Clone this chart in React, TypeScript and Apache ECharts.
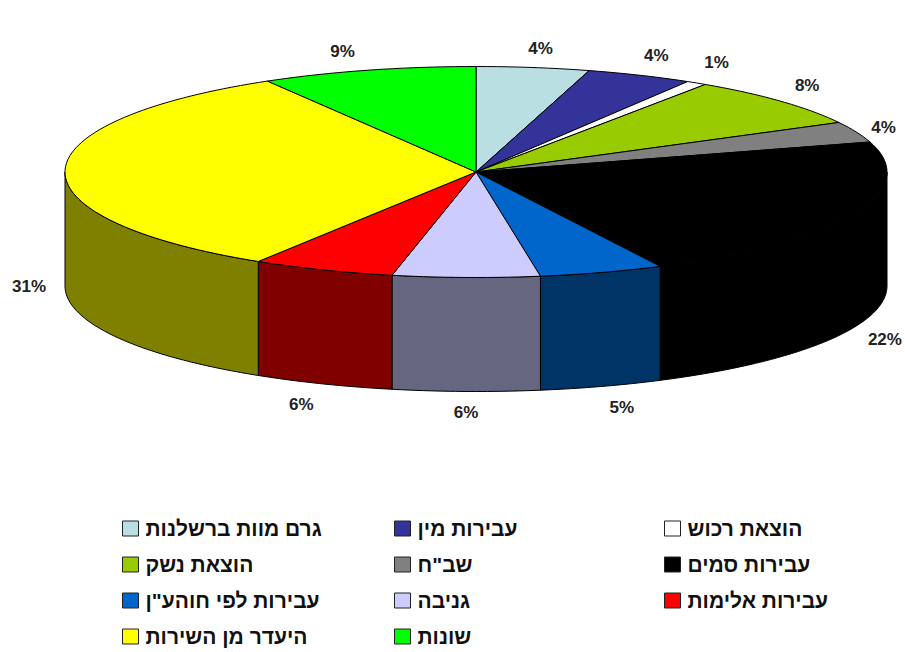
import React, { useEffect, useRef } from "react";
import * as echarts from "echarts";

const sliceNames = ["גרם מוות ברשלנות", "עבירות מין", "הוצאת רכוש", "הוצאת נשק", 'שב"ח', "עבירות סמים", 'עבירות לפי חוהע"ן', "גניבה", "עבירות אלימות", "היעדר מן השירות", "שונות"];
const visibleShares = [4.44, 4.17, 0.81, 7.8, 3.19, 22.19, 4.89, 5.78, 5.61, 32.64, 8.47];
const percentLabels = [4, 4, 1, 8, 4, 22, 5, 6, 6, 31, 9];
const topColors = ["#B9DFE3", "#333399", "#FFFFFF", "#99CC00", "#808080", "#000000", "#0066CC", "#CCCCFF", "#FF0000", "#FFFF00", "#00FF00"];
const wallColors = ["#5C7072", "#19194D", "#808080", "#4D6600", "#404040", "#000000", "#003366", "#666680", "#800000", "#808000", "#008000"];
const legendColumns = [[0, 3, 6, 9], [1, 4, 7, 10], [2, 5, 8]];
const legendLefts = [122, 394, 664];
const labelNudges = [[2, 0], [1, -2], [-1, -4], [-3, -3], [-9, 3], [-4, 4], [8, 2], [1, 2], [-7, 3], [3, 2], [-15, 0]];

const CX = 476, CY = 172, RX = 411, RY = 105.5, DEPTH = 114;
const LABEL_RX = 450, LABEL_RY = 125;
const pt = (deg: number, dy = 0) => {
  const r = (deg * Math.PI) / 180;
  return [CX + RX * Math.sin(r), CY - RY * Math.cos(r) + dy];
};
const arc = (a: number, b: number, dy = 0) => {
  const out: number[][] = [];
  const n = Math.max(2, Math.ceil((b - a) / 1.5));
  for (let i = 0; i <= n; i++) out.push(pt(a + ((b - a) * i) / n, dy));
  return out;
};
const total = visibleShares.reduce((s, v) => s + v, 0);
const startDeg = (idx: number) => (visibleShares.slice(0, idx).reduce((s, v) => s + v, 0) / total) * 360;

export default function App() {
  const ref = useRef<HTMLDivElement>(null);
  useEffect(() => {
    const chart = echarts.init(ref.current!, undefined, { renderer: "svg" });
    const stroke = "#000000";
    chart.setOption({
      animation: false,
      backgroundColor: "#ffffff",
      legend: legendColumns.map((col, i) => ({
        orient: "vertical",
        left: legendLefts[i],
        top: 518,
        padding: 0,
        height: 134,
        icon: "rect",
        itemWidth: 16,
        itemHeight: 15,
        itemGap: 15,
        selectedMode: false,
        data: col.map((k) => sliceNames[k]),
        itemStyle: { borderColor: "#222", borderWidth: 1 },
        textStyle: { fontFamily: "Liberation Sans", fontWeight: "bold", fontSize: 21, color: "#111", lineHeight: 21, padding: [0, 0, 0, 2] },
      })),
      series: sliceNames.map((name, idx) => ({
        type: "custom",
        name,
        coordinateSystem: "none",
        itemStyle: { color: topColors[idx] },
        data: [[visibleShares[idx], percentLabels[idx]]],
        renderItem: (_p: any, api: any) => {
          const a = startDeg(idx);
          const b = a + (api.value(0) / total) * 360;
          const children: any[] = [];
          const wa = Math.max(a, 90), wb = Math.min(b, 270);
          if (wb > wa) {
            children.push({
              type: "polygon",
              shape: { points: [...arc(wa, wb), ...arc(wa, wb, DEPTH).reverse()] },
              style: { fill: wallColors[idx], stroke, lineWidth: 1 },
            });
          }
          children.push({
            type: "polygon",
            shape: { points: [[CX, CY], ...arc(a, b)] },
            style: { fill: topColors[idx], stroke, lineWidth: 1 },
          });
          const mid = (((a + b) / 2) * Math.PI) / 180;
          const front = Math.cos(mid) <= 0.05;
          children.push({
            type: "text",
            x: CX + LABEL_RX * Math.sin(mid) + labelNudges[idx][0],
            y: CY - LABEL_RY * Math.cos(mid) + (front ? DEPTH : 0) + labelNudges[idx][1],
            style: {
              text: api.value(1) + "%",
              fontFamily: "Liberation Sans",
              fontWeight: "bold",
              fontSize: 17,
              fill: "#222",
              align: "center",
              verticalAlign: "middle",
            },
          });
          return { type: "group", children };
        },
      })),
    });
    return () => chart.dispose();
  }, []);
  return <div ref={ref} style={{ position: "absolute", left: 0, top: 0, width: 905, height: 652 }} />;
}
